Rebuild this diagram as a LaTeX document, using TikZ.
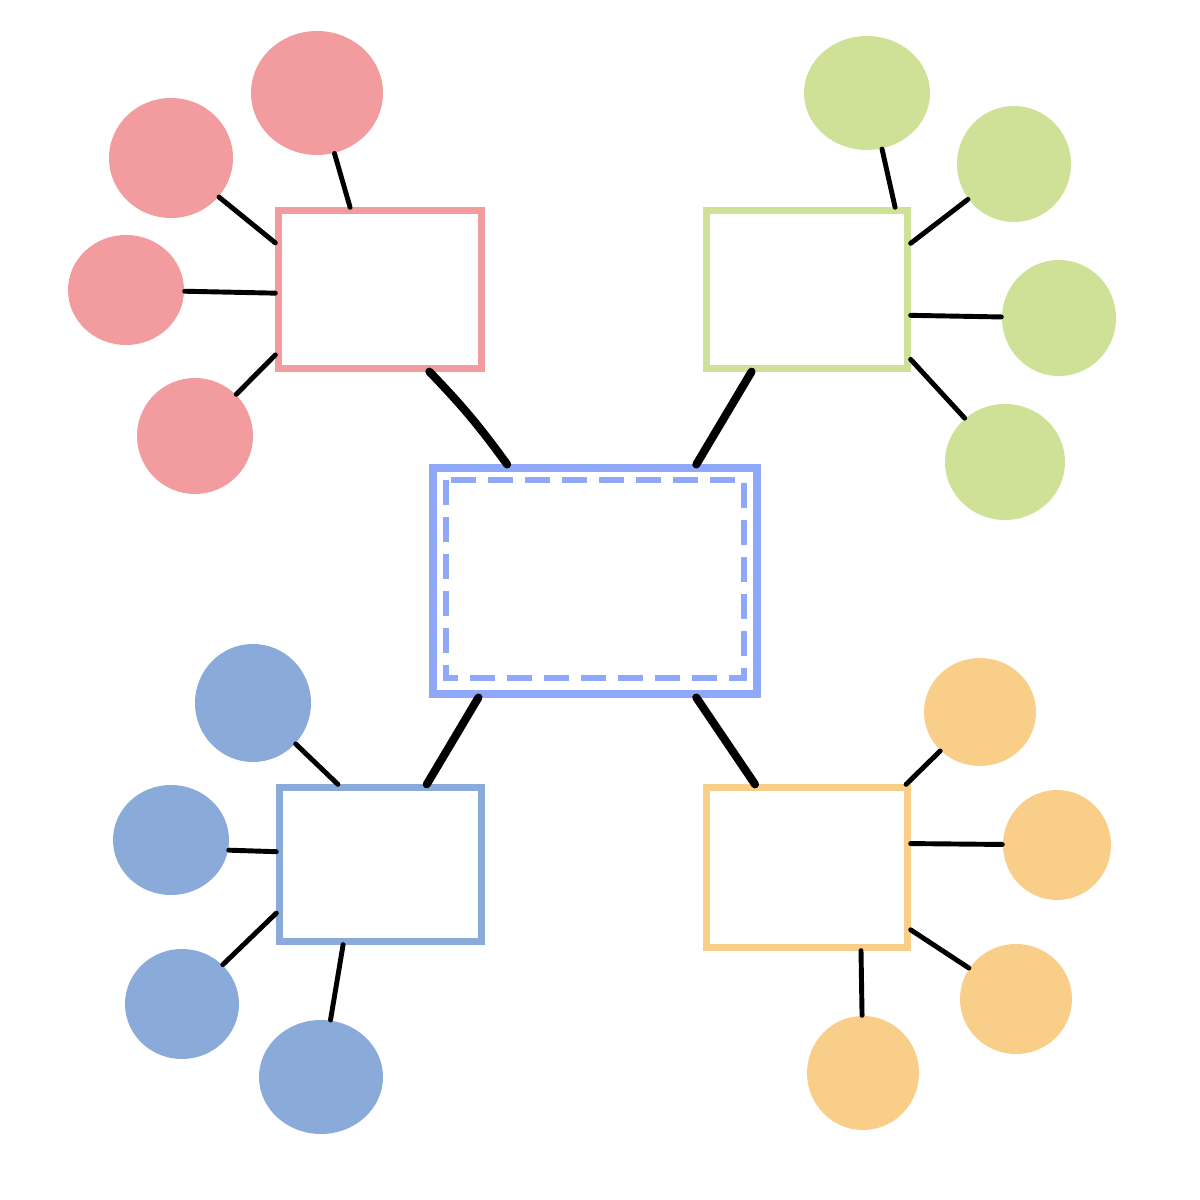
\documentclass[tikz,border=0pt]{standalone}
\usepackage{tikz}
\usetikzlibrary{shapes.geometric}
\definecolor{redish}{HTML}{F29C9F}
\definecolor{greenish}{HTML}{CEE197}
\definecolor{bluish}{HTML}{8AABDA}
\definecolor{mainblue}{HTML}{8FA8FA}
\definecolor{orangish}{HTML}{F9CE89}

\begin{document}
\begin{tikzpicture}[spoke/.style={line width=1.4pt,line cap=round},
    link/.style={line width=2.3pt,line cap=round},
    topic/.style={draw,rectangle,fill=white,line width=1.8pt,inner sep=0pt},
    leaf/.style={ellipse,inner sep=0pt}]

    \useasboundingbox (0,0) rectangle (12,12);

    % main box
    \node[topic,draw=mainblue,line width=2pt,minimum width=3.24cm,minimum height=2.26cm] (main) at (5.95,6.19) {};
    \draw[mainblue,line width=1.8pt,dash pattern=on 0.25cm off 0.12cm] (4.46,7.2) rectangle (7.44,5.22);

    % four topic boxes
    \node[topic,draw=redish,minimum width=2.03cm,minimum height=1.58cm] (red) at (3.80,9.105) {};
    \node[topic,draw=greenish,minimum width=2.01cm,minimum height=1.58cm] (green) at (8.07,9.105) {};
    \node[topic,draw=bluish,minimum width=2.02cm,minimum height=1.54cm] (blue) at (3.805,3.355) {};
    \node[topic,draw=orangish,minimum width=2.01cm,minimum height=1.60cm] (orange) at (8.07,3.325) {};

    \draw[link] (main.127) to[bend right=4] (red.-59);
    \draw[link] (main.49) -- (green.236);
    \draw[link] (main.225) -- (blue.60);
    \draw[link] (main.-49) -- (orange.122);

    % red leaves
    \node[leaf,fill=redish,minimum width=1.32cm,minimum height=1.24cm] (r1) at (3.17,11.07) {};
    \node[leaf,fill=redish,minimum width=1.24cm,minimum height=1.20cm] (r2) at (1.71,10.42) {};
    \node[leaf,fill=redish,minimum width=1.16cm,minimum height=1.10cm] (r3) at (1.26,9.10) {};
    \node[leaf,fill=redish,minimum width=1.16cm,minimum height=1.16cm] (r4) at (1.95,7.64) {};
    \draw[spoke] (red.110) -- (r1);
    \draw[spoke] (red.156) -- (r2);
    \draw[spoke] (red.182) -- (r3);
    \draw[spoke] (red.212) -- (r4);

    % green leaves
    \node[leaf,fill=greenish,minimum width=1.26cm,minimum height=1.14cm] (g1) at (8.67,11.07) {};
    \node[leaf,fill=greenish,minimum width=1.14cm,minimum height=1.16cm] (g2) at (10.14,10.36) {};
    \node[leaf,fill=greenish,minimum width=1.14cm,minimum height=1.16cm] (g3) at (10.59,8.82) {};
    \node[leaf,fill=greenish,minimum width=1.20cm,minimum height=1.16cm] (g4) at (10.05,7.38) {};
    \draw[spoke] (green.43) -- (g1.-75);
    \draw[spoke] (green.24) -- (g2);
    \draw[spoke] (green.-14) -- (g3);
    \draw[spoke] (green.-34) -- (g4);

    % blue leaves
    \node[leaf,fill=bluish,minimum width=1.16cm,minimum height=1.18cm] (b1) at (2.53,4.97) {};
    \node[leaf,fill=bluish,minimum width=1.16cm,minimum height=1.10cm] (b2) at (1.71,3.60) {};
    \node[leaf,fill=bluish,minimum width=1.14cm,minimum height=1.10cm] (b3) at (1.82,1.96) {};
    \node[leaf,fill=bluish,minimum width=1.24cm,minimum height=1.14cm] (b4) at (3.21,1.23) {};
    \draw[spoke] (blue.118) -- (b1);
    \draw[spoke] (blue.173) -- (b2.-10);
    \draw[spoke] (blue.205) -- (b3);
    \draw[spoke] (blue.245) -- (b4);

    % orange leaves
    \node[leaf,fill=orangish,minimum width=1.12cm,minimum height=1.08cm] (o1) at (9.80,4.88) {};
    \node[leaf,fill=orangish,minimum width=1.08cm,minimum height=1.10cm] (o2) at (10.57,3.55) {};
    \node[leaf,fill=orangish,minimum width=1.12cm,minimum height=1.10cm] (o3) at (10.16,2.01) {};
    \node[leaf,fill=orangish,minimum width=1.12cm,minimum height=1.14cm] (o4) at (8.63,1.27) {};
    \draw[spoke] (orange.40) -- (o1);
    \draw[spoke] (orange.13) -- (o2);
    \draw[spoke] (orange.-31) -- (o3);
    \draw[spoke] (orange.-57) -- (o4);

\end{tikzpicture}
\end{document}
